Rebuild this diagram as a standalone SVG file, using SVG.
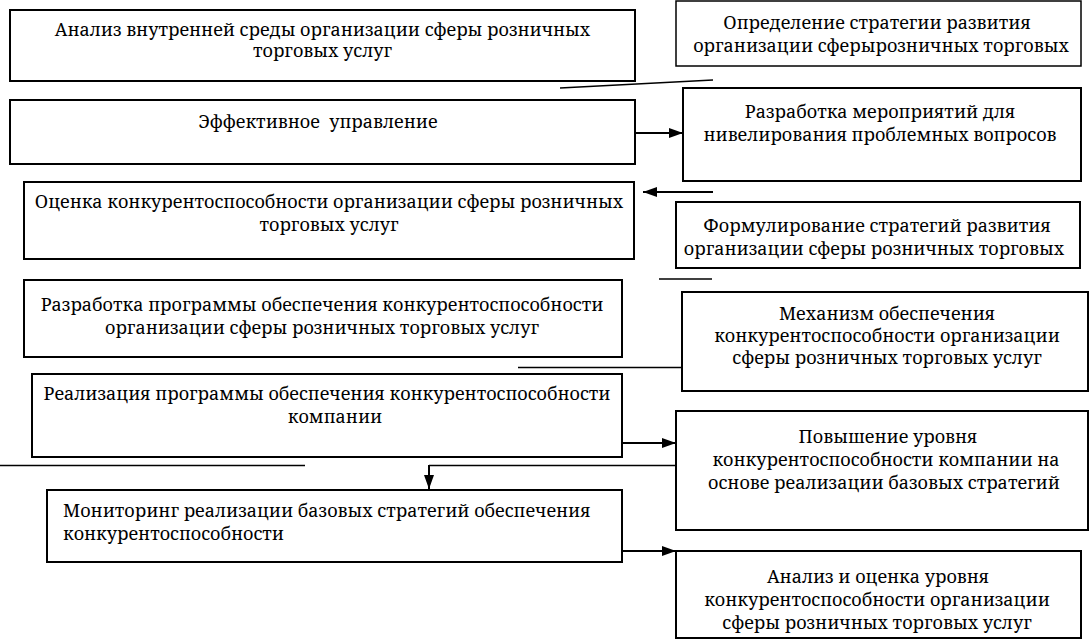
<svg xmlns="http://www.w3.org/2000/svg" width="1089" height="639" viewBox="0 0 1089 639">
<defs>
<marker id="ah" markerWidth="14" markerHeight="10" refX="14" refY="5" orient="auto" markerUnits="userSpaceOnUse">
<path d="M0,0 L14,5 L0,10 Z" fill="#000"/>
</marker>
</defs>
<rect width="1089" height="639" fill="#fff"/>
<g id="nodes" text-anchor="middle" font-family="Noto Serif, serif" font-size="18">
<g id="n1"><rect x="10" y="10" width="625" height="71" fill="#fff" stroke="#000" stroke-width="2"/>
<text x="322.5" y="36">Анализ внутренней среды организации сферы розничных</text>
<text x="322.5" y="57">торговых услуг</text></g>
<g id="n2"><rect x="10" y="100" width="625" height="64" fill="#fff" stroke="#000" stroke-width="2"/>
<text x="318" y="128" xml:space="preserve">Эффективное  управление</text></g>
<g id="n3"><rect x="676" y="1" width="405" height="65" fill="#fff" stroke="#000" stroke-width="1.5"/>
<text x="877" y="29">Определение стратегии развития</text>
<text x="881" y="52">организации сферырозничных торговых</text></g>
<g id="n4"><rect x="683" y="88" width="398" height="93" fill="#fff" stroke="#000" stroke-width="2"/>
<text x="880" y="118">Разработка мероприятий для</text>
<text x="880" y="141">нивелирования проблемных вопросов</text></g>
<g id="n5"><rect x="24" y="182" width="610" height="77" fill="#fff" stroke="#000" stroke-width="2"/>
<text x="329" y="208">Оценка конкурентоспособности организации сферы розничных</text>
<text x="329" y="231">торговых услуг</text></g>
<g id="n6"><rect x="676" y="202" width="404" height="66" fill="#fff" stroke="#000" stroke-width="2"/>
<text x="877" y="232">Формулирование стратегий развития</text>
<text x="874" y="255">организации сферы розничных торговых</text></g>
<g id="n7"><rect x="24" y="280" width="598" height="77" fill="#fff" stroke="#000" stroke-width="2"/>
<text x="322" y="311">Разработка программы обеспечения конкурентоспособности</text>
<text x="322" y="334">организации сферы розничных торговых услуг</text></g>
<g id="n8"><rect x="682" y="292" width="406" height="99" fill="#fff" stroke="#000" stroke-width="2"/>
<text x="887" y="320">Механизм обеспечения</text>
<text x="887" y="342">конкурентоспособности организации</text>
<text x="887" y="364">сферы розничных торговых услуг</text></g>
<g id="n9"><rect x="32" y="374" width="590" height="83" fill="#fff" stroke="#000" stroke-width="2"/>
<text x="327" y="400">Реализация программы обеспечения конкурентоспособности</text>
<text x="335" y="423">компании</text></g>
<g id="n10"><rect x="676" y="411" width="412" height="119" fill="#fff" stroke="#000" stroke-width="2"/>
<text x="888" y="443">Повышение уровня</text>
<text x="886" y="466">конкурентоспособности компании на</text>
<text x="884" y="489">основе реализации базовых стратегий</text></g>
<g id="n11"><rect x="47" y="490" width="575" height="72" fill="#fff" stroke="#000" stroke-width="2"/>
<text x="63" y="517" text-anchor="start">Мониторинг реализации базовых стратегий обеспечения</text>
<text x="63" y="540" text-anchor="start">конкурентоспособности</text></g>
<g id="n12"><rect x="676" y="551" width="405" height="87" fill="#fff" stroke="#000" stroke-width="2"/>
<text x="878" y="583">Анализ и оценка уровня</text>
<text x="877" y="606">конкурентоспособности организации</text>
<text x="877" y="629">сферы розничных торговых услуг</text></g>
</g>
<g id="connectors" fill="none" stroke="#000" stroke-width="1.5">
<line x1="560" y1="88" x2="713" y2="80"/>
<line x1="635" y1="133" x2="683" y2="133" stroke-width="2" marker-end="url(#ah)"/>
<line x1="713" y1="192" x2="643" y2="192" stroke-width="2" marker-end="url(#ah)"/>
<line x1="659" y1="279" x2="712" y2="279"/>
<line x1="518" y1="367.5" x2="682" y2="367.5"/>
<line x1="622" y1="443" x2="676" y2="443" stroke-width="2" marker-end="url(#ah)"/>
<line x1="0" y1="465.5" x2="305" y2="465.5"/>
<line x1="676" y1="465.5" x2="429" y2="465.5"/>
<line x1="429" y1="465" x2="429" y2="489" stroke-width="2" marker-end="url(#ah)"/>
<line x1="622" y1="551" x2="676" y2="551" stroke-width="2" marker-end="url(#ah)"/>
</g>
</svg>
